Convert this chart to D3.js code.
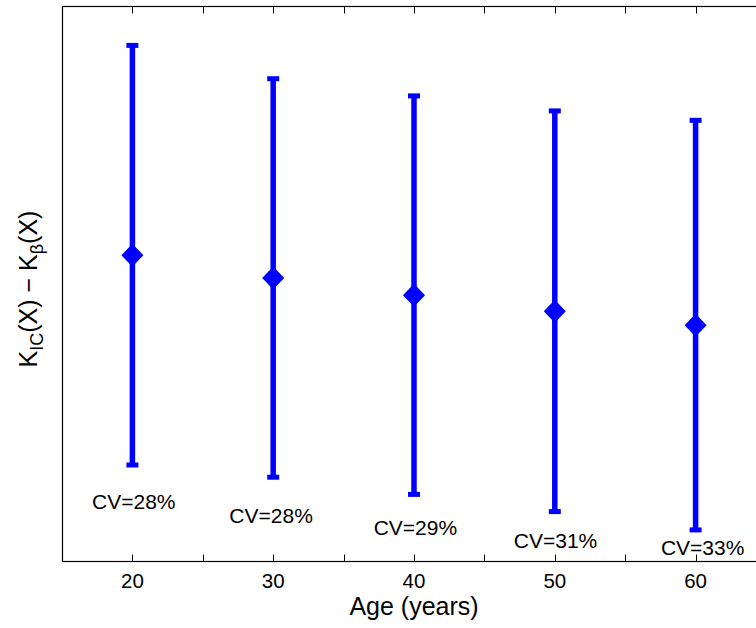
<!DOCTYPE html>
<html lang="en">
  <head>
    <meta charset="UTF-8" />
    <title>K_IC(X) - K_beta(X) by age</title>
    <style>
      body {
        margin: 0;
        background-color: #ffffff;
      }
      svg text {
        font-family: "Liberation Sans", Arial, Helvetica, sans-serif;
        fill: #000000;
      }
    </style>
    <script src="https://d3js.org/d3.v7.min.js"></script>
  </head>
  <body>
    <svg id="chart"></svg>
    <script>
      // values (y axis has no tick labels, arbitrary units 0-100)
      const ages = [20, 30, 40, 50, 60];
      const means = [55.1, 51.0, 47.9, 45.0, 42.5];
      const errors = [37.8, 35.9, 35.9, 36.1, 36.9];
      const cvLabels = ["CV=28%", "CV=28%", "CV=29%", "CV=31%", "CV=33%"];
      const cvLabelX = [20.1, 29.85, 40.1, 50.05, 60.5];
      const cvLabelY = [9.3, 6.8, 4.7, 2.3, 1.1];
      const xTicks = [20, 25, 30, 35, 40, 45, 50, 55, 60];
      const xTickLabels = [20, 30, 40, 50, 60];

      const width = 756;
      const height = 628;
      const margin = { left: 62, top: 6, right: 766, bottom: 561 };

      const svg = d3.select("#chart").attr("width", width).attr("height", height);

      const x = d3.scaleLinear().domain([15, 65]).range([margin.left, margin.right]);
      const y = d3.scaleLinear().domain([0, 100]).range([margin.bottom, margin.top]);

      const blue = "#0000ff";

      // axes box
      svg
        .append("rect")
        .attr("x", margin.left + 0.5)
        .attr("y", margin.top + 0.5)
        .attr("width", margin.right - margin.left)
        .attr("height", margin.bottom - margin.top)
        .attr("fill", "none")
        .attr("stroke", "#000")
        .attr("stroke-width", 1.2);

      // inward ticks, bottom and top
      const tickLen = 7;
      const ticks = svg.append("g");
      ticks
        .selectAll("line.bt")
        .data(xTicks)
        .join("line")
        .attr("class", "bt")
        .attr("x1", (d) => Math.round(x(d)) + 0.5)
        .attr("x2", (d) => Math.round(x(d)) + 0.5)
        .attr("y1", margin.bottom + 0.5)
        .attr("y2", margin.bottom + 0.5 - tickLen)
        .attr("stroke", "#000");
      ticks
        .selectAll("line.tt")
        .data(xTicks)
        .join("line")
        .attr("class", "tt")
        .attr("x1", (d) => Math.round(x(d)) + 0.5)
        .attr("x2", (d) => Math.round(x(d)) + 0.5)
        .attr("y1", margin.top + 0.5)
        .attr("y2", margin.top + 0.5 + tickLen)
        .attr("stroke", "#000");

      svg
        .append("g")
        .selectAll("text")
        .data(xTickLabels)
        .join("text")
        .attr("x", (d) => x(d))
        .attr("y", 588)
        .attr("text-anchor", "middle")
        .attr("font-size", "20.5px")
        .text((d) => d);

      // error bars
      const data = ages.map((a, i) => ({ age: a, mean: means[i], err: errors[i] }));
      const capHalf = 6;
      const bars = svg.append("g").attr("stroke", blue).attr("stroke-width", 5.5);

      bars
        .selectAll("line.stem")
        .data(data)
        .join("line")
        .attr("class", "stem")
        .attr("x1", (d) => x(d.age))
        .attr("x2", (d) => x(d.age))
        .attr("y1", (d) => y(d.mean + d.err))
        .attr("y2", (d) => y(d.mean - d.err));

      bars
        .selectAll("line.capTop")
        .data(data)
        .join("line")
        .attr("class", "capTop")
        .attr("x1", (d) => x(d.age) - capHalf)
        .attr("x2", (d) => x(d.age) + capHalf)
        .attr("y1", (d) => y(d.mean + d.err))
        .attr("y2", (d) => y(d.mean + d.err))
        .attr("stroke-width", 5);

      bars
        .selectAll("line.capBot")
        .data(data)
        .join("line")
        .attr("class", "capBot")
        .attr("x1", (d) => x(d.age) - capHalf)
        .attr("x2", (d) => x(d.age) + capHalf)
        .attr("y1", (d) => y(d.mean - d.err))
        .attr("y2", (d) => y(d.mean - d.err))
        .attr("stroke-width", 5);

      // diamond markers
      const dw = 11;
      const dh = 11.5;
      svg
        .append("g")
        .selectAll("path")
        .data(data)
        .join("path")
        .attr("d", (d) => {
          const cx = x(d.age);
          const cy = y(d.mean);
          return `M${cx},${cy - dh}L${cx + dw},${cy}L${cx},${cy + dh}L${cx - dw},${cy}Z`;
        })
        .attr("fill", blue);

      // CV annotations
      svg
        .append("g")
        .selectAll("text")
        .data(cvLabels)
        .join("text")
        .attr("x", (d, i) => x(cvLabelX[i]))
        .attr("y", (d, i) => y(cvLabelY[i]))
        .attr("text-anchor", "middle")
        .attr("font-size", "21px")
        .text((d) => d);

      // axis labels
      svg
        .append("text")
        .attr("x", (margin.left + margin.right) / 2)
        .attr("y", 615)
        .attr("text-anchor", "middle")
        .attr("font-size", "25px")
        .text("Age (years)");

      const yl = svg
        .append("text")
        .attr("transform", "translate(37,289) rotate(-90)")
        .attr("text-anchor", "middle")
        .attr("font-size", "25px");
      yl.append("tspan").text("K");
      yl.append("tspan").attr("font-size", "18px").attr("dy", 6).text("IC");
      yl.append("tspan").attr("dy", -6).text("(X) \u2212 K");
      yl.append("tspan").attr("font-size", "18px").attr("dy", 6).text("\u03b2");
      yl.append("tspan").attr("dy", -6).text("(X)");
    </script>
  </body>
</html>
